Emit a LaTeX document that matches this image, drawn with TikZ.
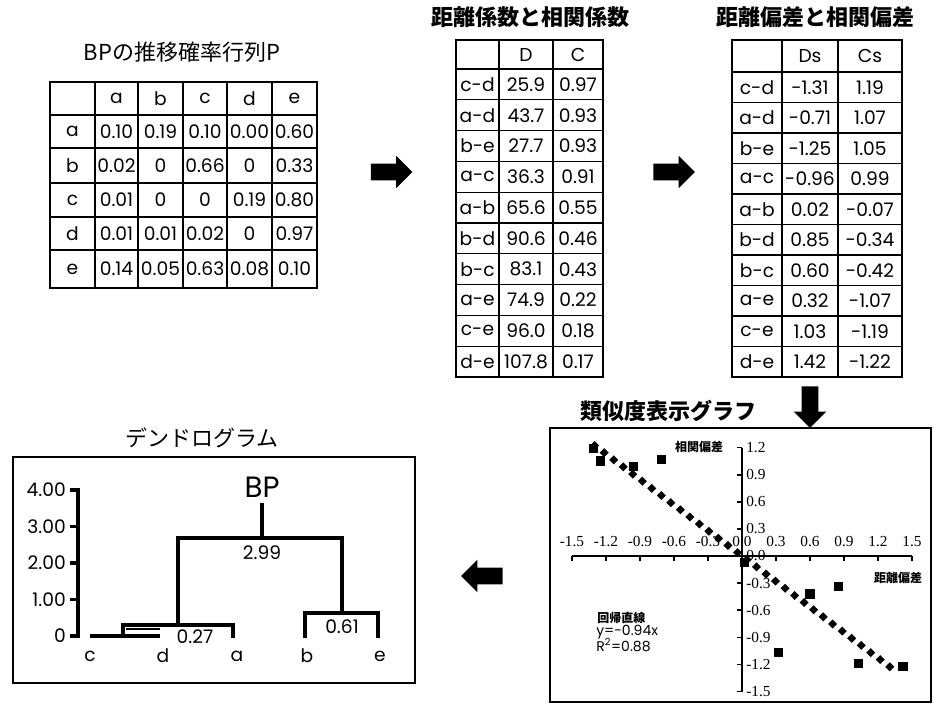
\documentclass[tikz,border=0pt]{standalone}
\usepackage{fontspec}
\usetikzlibrary{shapes.arrows}
\setmainfont{Poppins}
\newfontfamily\jp{Noto Sans CJK JP}
\newfontfamily\tms{Liberation Serif}
\newcommand\tabfnt{\fontsize{14}{16}\selectfont}
\tikzset{
 cell/.style={font=\tabfnt, inner sep=0pt},
 tabouter/.style={line width=2.2pt},
 tabinner/.style={line width=1pt},
 ttl/.style={font=\jp\fontsize{16.5}{19}\selectfont, inner sep=0pt},
 ttlb/.style={font=\jp\bfseries\fontsize{16.5}{19}\selectfont, inner sep=0pt},
 blockarrow/.style={single arrow, fill=black, draw=none, minimum height=31pt, single arrow head extend=6pt, inner sep=6pt},
 dline/.style={line width=2.3pt},
 sq/.style={fill=black, minimum size=7pt, inner sep=0pt},
 dia/.style={fill=black, minimum size=4.8pt, inner sep=0pt, rotate=45},
 tlab/.style={font=\tms\fontsize{11.5}{13}\selectfont, inner sep=0pt},
 axl/.style={line width=1.3pt},
 glab/.style={font=\jp\bfseries\fontsize{9}{11}\selectfont, inner sep=0pt},
 reg/.style={font=\fontsize{10.5}{12}\selectfont, inner sep=0pt, anchor=west},
}
\begin{document}
\begin{tikzpicture}[x=0.75pt,y=-0.75pt]
\useasboundingbox (0,0) rectangle (934,710);

% ---------- Table 1 ----------
\node[ttl] (t1) at (182,52) {BPの推移確率行列P};
\foreach \xv in {95,138,183,227,272} \draw[tabinner] (\xv,82) -- (\xv,288);
\foreach \yv in {115,148,183,217,250} \draw[tabinner] (50,\yv) -- (317,\yv);
\draw[tabouter] (50,82) rectangle (317,288);
\foreach \h [count=\c] in {a,b,c,d,e} {
  \pgfmathsetmacro\xx{{116.5,160.5,205,249.5,294.5}[\c-1]}
  \node[cell] (ph\c) at (\xx,98.5) {\h};
}
\foreach \y/\lab/\vals [count=\r] in {131.5/a/{0.10,0.19,0.10,0.00,0.60}, 165.5/b/{0.02,0,0.66,0,0.33}, 200/c/{0.01,0,0,0.19,0.80}, 233.5/d/{0.01,0.01,0.02,0,0.97}, 269/e/{0.14,0.05,0.63,0.08,0.10}} {
  \node[cell] (pr\r) at (72.5,\y) {\lab};
  \foreach \v [count=\c] in \vals {
    \pgfmathsetmacro\xx{{116.5,160.5,205,249.5,294.5}[\c-1]}
    \node[cell] (p\r-\c) at (\xx,\y) {\v};
  }
}

% ---------- Table 2 ----------
\node[ttlb] (t2) at (530,17) {距離係数と相関係数};
\draw[tabinner] (499,40) -- (499,377);
\draw[tabinner] (553,40) -- (553,377);
\foreach \k in {0,...,9} \draw[tabinner] (456,{69+30.8*\k}) -- (603,{69+30.8*\k});
\draw[tabouter] (456,40) rectangle (603,377);
\node[cell] (qhD) at (526,54.5) {D};
\node[cell] (qhC) at (578,54.5) {C};
\foreach \lab/\d/\cc [count=\r] in {c-d/25.9/0.97, a-d/43.7/0.93, b-e/27.7/0.93, a-c/36.3/0.91, a-b/65.6/0.55, b-d/90.6/0.46, b-c/83.1/0.43, a-e/74.9/0.22, c-e/96.0/0.18, d-e/107.8/0.17} {
  \pgfmathsetmacro\yy{84.4+30.8*(\r-1)}
  \node[cell] (q\r) at (477.5,\yy) {\lab};
  \node[cell] (qd\r) at (526,\yy) {\d};
  \node[cell] (qc\r) at (578,\yy) {\cc};
}

% ---------- Table 3 ----------
\node[ttlb] (t3) at (815,17) {距離偏差と相関偏差};
\draw[tabinner] (782,40) -- (782,377);
\draw[tabinner] (838,40) -- (838,377);
\foreach \k in {0,...,9} \draw[tabinner] (732,{72+30.5*\k}) -- (902,{72+30.5*\k});
\draw[tabouter] (732,40) rectangle (902,377);
\node[cell] (shD) at (810,56) {Ds};
\node[cell] (shC) at (870,56) {Cs};
\foreach \lab/\d/\cc [count=\r] in {c-d/-1.31/1.19, a-d/-0.71/1.07, b-e/-1.25/1.05, a-c/-0.96/0.99, a-b/0.02/-0.07, b-d/0.85/-0.34, b-c/0.60/-0.42, a-e/0.32/-1.07, c-e/1.03/-1.19, d-e/1.42/-1.22} {
  \pgfmathsetmacro\yy{87.25+30.5*(\r-1)}
  \node[cell] (s\r) at (757,\yy) {\lab};
  \node[cell] (sd\r) at (810,\yy) {\d};
  \node[cell] (sc\r) at (870,\yy) {\cc};
}

% ---------- Block arrows ----------
\node[blockarrow] (arr1) at (387.5,172) {};
\node[blockarrow] (arr2) at (670,172) {};
\node[blockarrow, rotate=-90] (arr3) at (810,403) {};
\node[blockarrow, rotate=180] (arr4) at (486,576) {};

% ---------- Graph ----------
\node[ttlb] (t4) at (668,411) {類似度表示グラフ};
\draw[tabouter] (550,428) rectangle (931,702);
\coordinate (O) at (742,556);
\begin{scope}[shift={(O)}, x=85pt, y=67.8pt]
  \draw[axl] (-1.5,0) -- (1.5,0);
  \foreach \t in {-1.5,-1.2,-0.9,-0.6,-0.3,0.3,0.6,0.9,1.2,1.5} \draw[axl] (\t,0) -- ++(0,-4pt);
  \draw[axl] (0,1.2) -- (0,-1.5);
  \foreach \t in {1.2,0.9,0.6,0.3,-0.3,-0.6,-0.9,-1.2,-1.5} \draw[axl] (0,\t) -- ++(-4pt,0);
  \foreach \t in {-1.5,-1.2,-0.9,-0.6,-0.3,0.0,0.3,0.6,0.9,1.2,1.5}
    \node[tlab, yshift=10.5pt] (gx\t) at (\t,0) {\t};
  \foreach \t in {1.2,0.9,0.6,0.3,0.0,-0.3,-0.6,-0.9,-1.2,-1.5}
    \node[tlab, anchor=west, xshift=3pt] (gy\t) at (0,\t) {\t};
  % regression line (dotted diamonds)
  \foreach \t in {-1.30,-1.216,...,1.38}
    \node[dia] at (\t,{-0.94*\t}) {};
  % data points
  \foreach \px/\py [count=\i] in {-1.31/1.19, -0.71/1.07, -1.25/1.05, -0.96/0.99, 0.02/-0.07, 0.85/-0.34, 0.60/-0.42, 0.32/-1.07, 1.03/-1.19, 1.42/-1.22}
    \node[sq] (pt\i) at (\px,\py) {};
\end{scope}
\node[glab] (gylab) at (699,447) {相関偏差};
\node[glab] (gxlab) at (898,578) {距離偏差};
\node[glab, anchor=west] (regt) at (597,618) {回帰直線};
\node[reg] (rege) at (596,632) {y=-0.94x};
\node[reg] (regr) at (596,645) {R\textsuperscript{2}=0.88};

% ---------- Dendrogram ----------
\node[ttl] (t5) at (202,438) {デンドログラム};
\draw[tabouter] (13,457) rectangle (415,683);
\draw[dline] (70,490) -- (78,490) -- (78,636) -- (70,636);
\foreach \yv/\lab in {490/4.00, 526.5/3.00, 563/2.00, 599.5/1.00, 636/0} {
  \draw[dline] (70,\yv) -- (78,\yv);
  \node[cell, anchor=east] (dy\lab) at (66,\yv) {\lab};
}
\node[cell] (lc) at (90,656) {c};
\node[cell] (ld) at (163,656) {d};
\node[cell] (la) at (237,656) {a};
\node[cell] (lb) at (307,656) {b};
\node[cell] (le) at (380,656) {e};
\draw[dline] (90,636) -- (160,636);
\draw[line width=0.8pt] (126,629) -- (160,629);
\draw[dline] (123,636) -- (123,625) -- (233,625) -- (233,638);
\draw[dline] (178,625) -- (178,538) -- (342,538) -- (342,613);
\draw[dline] (305,638) -- (305,613) -- (378,613) -- (378,638);
\draw[dline] (262,538) -- (262,503);
\node[inner sep=0pt, font=\fontsize{22}{25}\selectfont] (bp) at (262,487) {BP};
\node[cell] (v299) at (262,553) {2.99};
\node[cell] (v027) at (195,637) {0.27};
\node[cell] (v061) at (342,627) {0.61};
\end{tikzpicture}
\end{document}
